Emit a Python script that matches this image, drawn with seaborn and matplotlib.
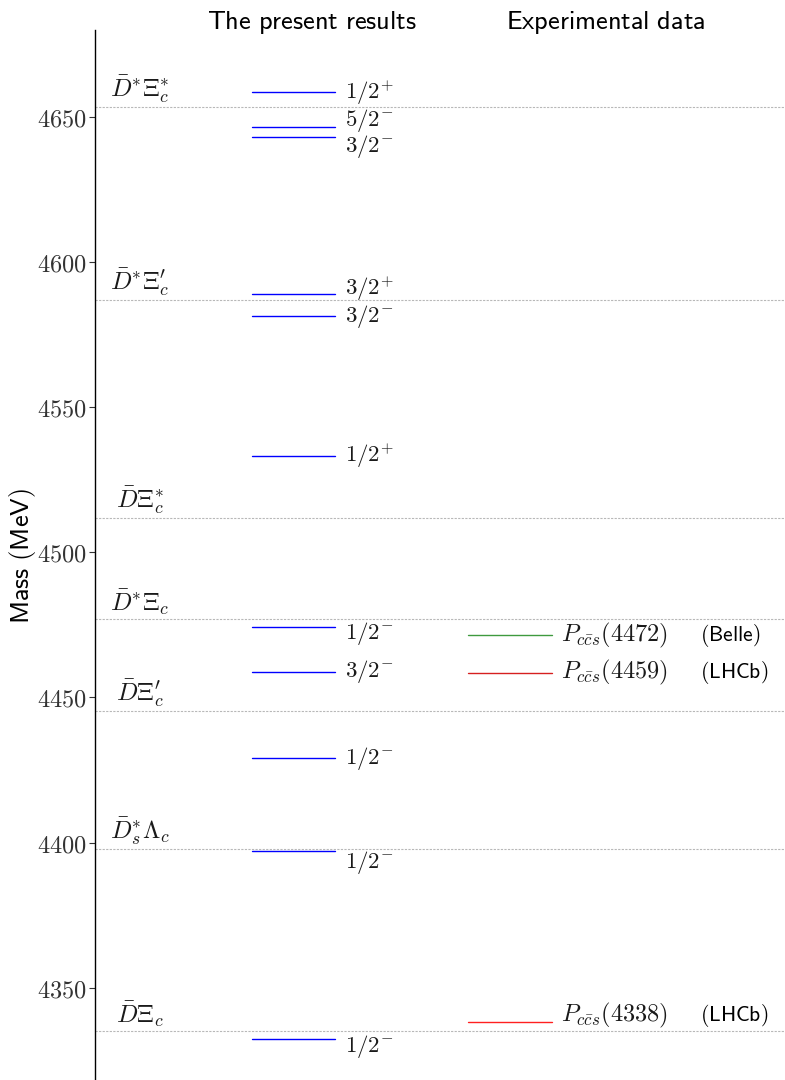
import numpy as np
import pandas as pd
import matplotlib
matplotlib.use("Agg")
import matplotlib.pyplot as plt
import matplotlib.transforms as mtransforms
import seaborn as sns

# ---------------- data ----------------
threshold_names = [r"$\bar{D}^{*}\Xi_c^{*}$", r"$\bar{D}^{*}\Xi_c^{\prime}$", r"$\bar{D}\Xi_c^{*}$",
                   r"$\bar{D}^{*}\Xi_c$", r"$\bar{D}\Xi_c^{\prime}$", r"$\bar{D}_s^{*}\Lambda_c$",
                   r"$\bar{D}\Xi_c$"]
threshold_mass = [4653.4, 4586.8, 4511.9, 4477.1, 4445.2, 4397.7, 4335.3]

level_jp = [r"$1/2^{+}$", r"$5/2^{-}$", r"$3/2^{-}$", r"$3/2^{+}$", r"$3/2^{-}$", r"$1/2^{+}$",
            r"$1/2^{-}$", r"$3/2^{-}$", r"$1/2^{-}$", r"$1/2^{-}$", r"$1/2^{-}$"]
level_mass = [4658.3, 4646.3, 4643.1, 4588.8, 4581.3, 4533.3, 4474.4, 4458.9, 4429.1, 4397.0, 4332.5]

exp_names = [r"$P_{c\bar{c}s}(4472)$", r"$P_{c\bar{c}s}(4459)$", r"$P_{c\bar{c}s}(4338)$"]
exp_mass = [4471.5, 4458.5, 4338.2]
exp_source = ["(Belle)", "(LHCb)", "(LHCb)"]

yticks = [4350, 4400, 4450, 4500, 4550, 4600, 4650]

# ---------------- layout / style (not data) ----------------
jp_offsets_px = [0, 6.5, -10, 6, 0, 0, -7, 0, 0, -11, -8]
exp_offsets_px = [0, 0, 7]
exp_colors = ["#3f9a3f", "#d62020", "#ff2020"]
LEVEL_X = (0.227, 0.348)
EXP_X = (0.541, 0.662)

sns.set_theme(style="white")
plt.rcParams["mathtext.fontset"] = "cm"
plt.rcParams["font.family"] = ["DejaVu Sans"]

fig = plt.figure(figsize=(7.85, 10.8), dpi=100)
ax = fig.add_axes([95 / 785, 0.0, 690 / 785, 1050 / 1080])
ax.set_xlim(0, 1)
ax.set_ylim(4318.3, 4679.8)

# threshold dotted lines
for m in threshold_mass:
    ax.axhline(m, color="#b8b8b8", lw=0.8, ls=(0, (2, 1.2)), zorder=1)

# level segments via seaborn
rows = []
for i, m in enumerate(level_mass):
    for x in LEVEL_X:
        rows.append({"x": x, "mass": m, "unit": f"L{i}", "grp": "theory"})
for i, m in enumerate(exp_mass):
    for x in EXP_X:
        rows.append({"x": x, "mass": m, "unit": f"E{i}", "grp": f"exp{i}"})
df = pd.DataFrame(rows)
palette = {"theory": "blue", "exp0": exp_colors[0], "exp1": exp_colors[1], "exp2": exp_colors[2]}
sns.lineplot(data=df, x="x", y="mass", units="unit", estimator=None, hue="grp",
             palette=palette, legend=False, sort=False, lw=1.0, ax=ax, zorder=3)

# threshold labels
for name, m in zip(threshold_names, threshold_mass):
    tr = ax.transData + mtransforms.ScaledTranslation(0, 2 / 100, fig.dpi_scale_trans)
    ax.text(0.065, m, name, ha="center", va="bottom", fontsize=18, color="#1a1a1a",
            transform=tr)

# J^P labels
for lab, m, off in zip(level_jp, level_mass, jp_offsets_px):
    tr = ax.transData + mtransforms.ScaledTranslation(0, off / 100, fig.dpi_scale_trans)
    ax.text(0.363, m, lab, ha="left", va="center", fontsize=16.5, color="#1a1a1a", transform=tr)

# experimental labels
for name, m, src, off in zip(exp_names, exp_mass, exp_source, exp_offsets_px):
    tr = ax.transData + mtransforms.ScaledTranslation(0, off / 100, fig.dpi_scale_trans)
    ax.text(0.675, m, name, ha="left", va="center", fontsize=17.5, color="#1a1a1a", transform=tr)
    ax.text(0.877, m, r"$\mathsf{" + src + "}$",
            ha="left", va="center", fontsize=15.5, color="black", transform=tr)

# column headers
ax.text(0.3145, 1.0 + 8 / 1050, r"$\mathsf{The\ present\ results}$", transform=ax.transAxes,
        ha="center", va="center", fontsize=19, color="black")
ax.text(0.7406, 1.0 + 8 / 1050, r"$\mathsf{Experimental\ data}$", transform=ax.transAxes,
        ha="center", va="center", fontsize=19, color="black")

# axes styling
ax.set_yticks(yticks)
ax.set_yticklabels([f"${v}$" for v in yticks], fontsize=17.5, color="#333333")
ax.set_xticks([])
ax.set_xlabel("")
ax.set_ylabel(r"$\mathsf{Mass\ (MeV)}$", fontsize=19, color="black")
ax.yaxis.set_label_coords((38 - 95) / 690, 0.499)
ax.tick_params(axis="y", which="major", direction="out", length=4, width=0.8,
               color="#333333", pad=2, left=True)
for s in ["top", "right", "bottom"]:
    ax.spines[s].set_visible(False)
ax.spines["left"].set_color("black")
ax.spines["left"].set_linewidth(1.0)

fig.savefig("out.png", dpi=100)
